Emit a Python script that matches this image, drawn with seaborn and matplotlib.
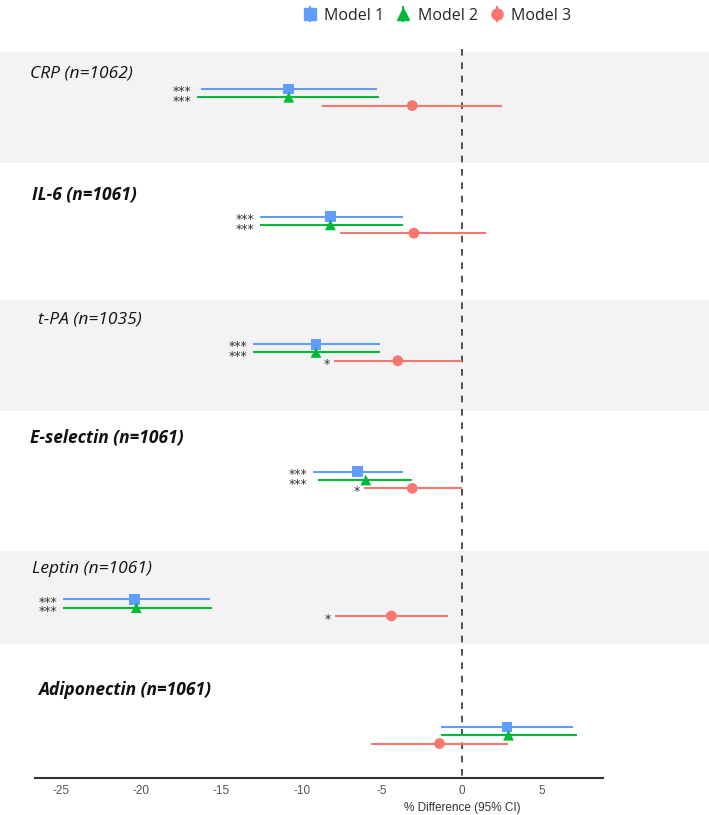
import numpy as np
import pandas as pd
import matplotlib
matplotlib.use("Agg")
import matplotlib.pyplot as plt
import seaborn as sns

# data
markers_lbl = ["CRP (n=1062)", "IL-6 (n=1061)", "t-PA (n=1035)",
               "E-selectin (n=1061)", "Leptin (n=1061)", "Adiponectin (n=1061)"]
models = ["Model 1", "Model 2", "Model 3"]

m1_est = [-10.8, -8.2, -9.1, -6.5, -20.4, 2.8]
m1_lo = [-16.3, -12.6, -13.0, -9.3, -24.9, -1.3]
m1_hi = [-5.3, -3.7, -5.1, -3.7, -15.7, 6.9]
m1_sig = ["***", "***", "***", "***", "***", ""]

m2_est = [-10.8, -8.2, -9.1, -6.0, -20.3, 2.9]
m2_lo = [-16.5, -12.6, -13.0, -9.0, -24.9, -1.3]
m2_hi = [-5.2, -3.7, -5.1, -3.1, -15.6, 7.2]
m2_sig = ["***", "***", "***", "***", "***", ""]

m3_est = [-3.1, -3.0, -4.0, -3.1, -4.4, -1.4]
m3_lo = [-8.7, -7.6, -8.0, -6.1, -7.9, -5.7]
m3_hi = [2.5, 1.5, 0.0, 0.0, -0.9, 2.9]
m3_sig = ["", "", "*", "*", "*", ""]

colors = {"Model 1": "#619CFF", "Model 2": "#00BA38", "Model 3": "#F8766D"}
shapes = {"Model 1": "s", "Model 2": "^", "Model 3": "o"}
step = 0.065  # vertical offset between models inside a group

rows = []
for name, est, lo, hi, sig in [("Model 1", m1_est, m1_lo, m1_hi, m1_sig),
                               ("Model 2", m2_est, m2_lo, m2_hi, m2_sig),
                               ("Model 3", m3_est, m3_lo, m3_hi, m3_sig)]:
    for i, lab in enumerate(markers_lbl):
        rows.append({"marker": lab, "group": i, "model": name,
                     "est": est[i], "lo": lo[i], "hi": hi[i], "sig": sig[i]})
df = pd.DataFrame(rows)
df["y"] = df["group"] + df["model"].map({m: k * step for k, m in enumerate(models)})

sns.set_style("white")
plt.rcParams["font.family"] = ["Liberation Sans", "DejaVu Sans"]
plt.rcParams["axes.unicode_minus"] = False

fig = plt.figure(figsize=(7.09, 8.15), dpi=100)
ax = fig.add_axes([0, 37 / 815, 1, 738 / 815])

# grey bands behind every other marker
for top, bot in [(-0.29, 0.58), (1.655, 2.52), (3.62, 4.35)]:
    ax.axhspan(top, bot, color="#f3f3f3", zorder=0, lw=0)

ax.vlines(0, -0.31, 5.4, color="#333333", lw=1.2, linestyles=(0, (4, 4)), zorder=1)

for m in models:
    sub = df[df["model"] == m]
    ax.hlines(sub["y"], sub["lo"], sub["hi"], color=colors[m], lw=1.5, zorder=2)

# significance stars: model 1 + 2 stacked in one text, model 3 on its own
star_kw = dict(textcoords="offset points", ha="right", va="center", fontsize=9,
               family="DejaVu Sans", color="#333333")
for i in range(len(markers_lbl)):
    if m1_sig[i] or m2_sig[i]:
        ax.annotate(m1_sig[i] + "\n" + m2_sig[i],
                    (min(m1_lo[i], m2_lo[i]), i + step / 2), xytext=(-4, -2.5),
                    linespacing=0.68, multialignment="right", **star_kw)
    if m3_sig[i]:
        ax.annotate(m3_sig[i], (m3_lo[i], i + 2 * step), xytext=(-3, -2.5), **star_kw)

sns.scatterplot(data=df, x="est", y="y", hue="model", style="model",
                palette=colors, markers=shapes, s=60, linewidth=0,
                legend=False, ax=ax, zorder=3)

label_dy = [-0.125, -0.17, -0.19, -0.27, -0.235, -0.29]
label_x = [-26.9, -26.8, -26.4, -26.9, -26.8, -26.4]
for i, lab in enumerate(markers_lbl):
    ax.text(label_x[i], i + label_dy[i], lab, fontsize=12.5, style="italic",
            fontweight="bold" if i % 2 else "normal",
            family="Open Sans", color="#111111", va="center", ha="left")

ax.set_xlim(-28.8, 15.4)
ax.set_ylim(5.4, -0.384)
ax.set_yticks([])
ax.set_ylabel("")
ax.set_xticks([-25, -20, -15, -10, -5, 0, 5])
ax.set_xlabel("% Difference (95% CI)", fontsize=8.5, color="#333333", labelpad=2)
ax.xaxis.set_label_coords(462 / 709, -0.032)
ax.tick_params(axis="x", labelsize=8.5, colors="#333333", length=3, width=1, pad=2,
               labelcolor="#555555")
for s in ["top", "left", "right"]:
    ax.spines[s].set_visible(False)
ax.spines["bottom"].set_bounds(-26.6, 8.8)
ax.spines["bottom"].set_linewidth(1.5)
ax.spines["bottom"].set_color("#333333")

handles = []
for m in models:
    h = ax.errorbar([np.nan], [np.nan], yerr=[[1], [1]], fmt=shapes[m],
                    color=colors[m], ms=8, elinewidth=1.5)
    handles.append(h)
fig.legend(handles, models, loc="upper center", bbox_to_anchor=(0.617, 1.008),
           ncol=3, frameon=False, handlelength=0.8, handletextpad=0.5,
           columnspacing=0.8, prop={"family": "Open Sans", "size": 11.5})

fig.savefig("out.png", dpi=100)
